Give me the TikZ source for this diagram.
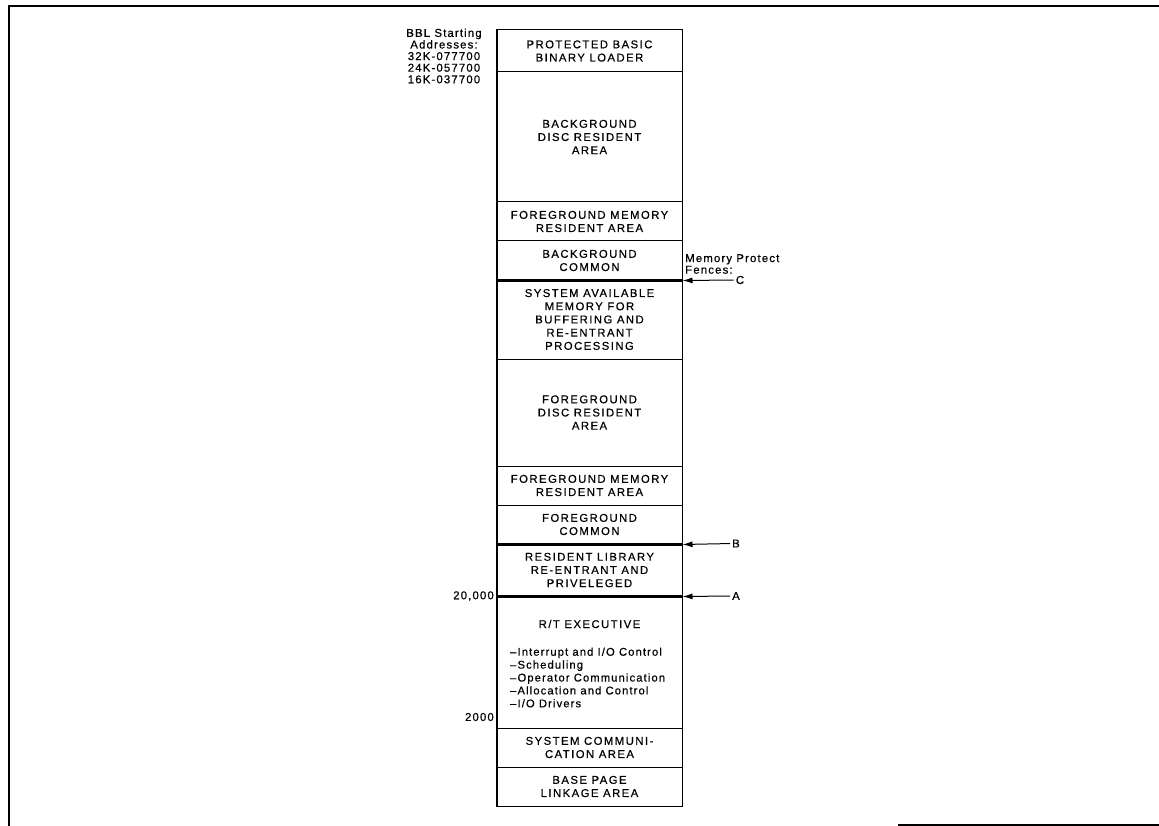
\documentclass[tikz,border=0pt]{standalone}
\usepackage{fontspec}
\setmainfont{Liberation Sans}
\newfontfamily\capsfont{Liberation Sans}[LetterSpace=13,FakeBold=0.5]
\newfontfamily\smallfont{Liberation Sans}[LetterSpace=10,FakeBold=0.5]
\usetikzlibrary{arrows.meta}
\begin{document}
\begin{tikzpicture}[x=1pt,y=-1pt,
  sec/.style={draw, line width=1pt, minimum width=185pt, inner sep=0pt, align=center,
    font=\capsfont\fontsize{11.3}{13.2}\selectfont},
  small/.style={inner sep=0pt, font=\smallfont\fontsize{11.4}{11.6}\selectfont},
  listtext/.style={inner sep=0pt, align=left, font=\smallfont\fontsize{11.2}{12.9}\selectfont},
  frameline/.style={line width=1.8pt},
  fenceline/.style={line width=2.2pt},
  fence/.style={line width=1pt, shorten <=2pt, -{Latex[length=10pt,width=6pt]}}]
\useasboundingbox (0,0) rectangle (1159,826);
% page frame
\draw[frameline] (1159,6) -- (9,6) -- (9,826);
\draw[frameline] (898,825) -- (1159,825);
% memory sections
\node[sec, minimum height=42pt]  (s1)  at (589.5,51)    {PROTECTED BASIC\\BINARY LOADER};
\node[sec, minimum height=130pt] (s2)  at (589.5,137)   {BACKGROUND\\DISC RESIDENT\\AREA};
\node[sec, minimum height=39pt]  (s3)  at (589.5,221.5) {FOREGROUND MEMORY\\RESIDENT AREA};
\node[sec, minimum height=39pt]  (s4)  at (589.5,260.5) {BACKGROUND\\COMMON};
\node[sec, minimum height=79pt]  (s5)  at (589.5,319.5) {SYSTEM AVAILABLE\\MEMORY FOR\\BUFFERING AND\\RE-ENTRANT\\PROCESSING};
\node[sec, minimum height=107pt] (s6)  at (589.5,412.5) {FOREGROUND\\DISC RESIDENT\\AREA};
\node[sec, minimum height=39pt]  (s7)  at (589.5,485.5) {FOREGROUND MEMORY\\RESIDENT AREA};
\node[sec, minimum height=39pt]  (s8)  at (589.5,524.5) {FOREGROUND\\COMMON};
\node[sec, minimum height=52pt]  (s9)  at (589.5,570)   {RESIDENT LIBRARY\\RE-ENTRANT AND\\PRIVELEGED};
\node[sec, minimum height=132pt] (s10) at (589.5,662)   {};
\node[sec, minimum height=39pt]  (s11) at (589.5,747.5) {SYSTEM COMMUNI-\\CATION AREA};
\node[sec, minimum height=39pt]  (s12) at (589.5,786.5) {BASE PAGE\\LINKAGE AREA};
\node[sec, draw=none] (rt) at (589.5,624) {R/T EXECUTIVE};
\node[listtext, anchor=west] (rtlist) at (510,677.5)
  {–Interrupt and I/O Control\\–Scheduling\\–Operator Communication\\–Allocation and Control\\–I/O Drivers};
% outer outline and fence lines
\draw[frameline] (s1.north west) rectangle (s12.south east);
\draw[fenceline] (s4.south west) -- (s4.south east);
\draw[fenceline] (s8.south west) -- (s8.south east);
\draw[fenceline] (s9.south west) -- (s9.south east);
% left labels
\node[small, align=center] (bbl) at (444,56) {BBL Starting\\Addresses:\\32K-077700\\24K-057700\\16K-037700};
\node[small, anchor=east] (a20000) at (494,596) {20,000};
\node[small, anchor=east] (a2000) at (494,717) {2000};
% memory protect fences
\node[small, anchor=west, align=left] (mpf) at (685,264) {Memory Protect\\Fences:};
\node[small] (C) at (740,280) {C};
\node[small] (B) at (736,543.5) {B};
\node[small] (A) at (736,596) {A};
\draw[fence] (C.west) -- (s4.south east);
\draw[fence] (B.west) -- (s8.south east);
\draw[fence] (A.west) -- (s9.south east);
\end{tikzpicture}
\end{document}
